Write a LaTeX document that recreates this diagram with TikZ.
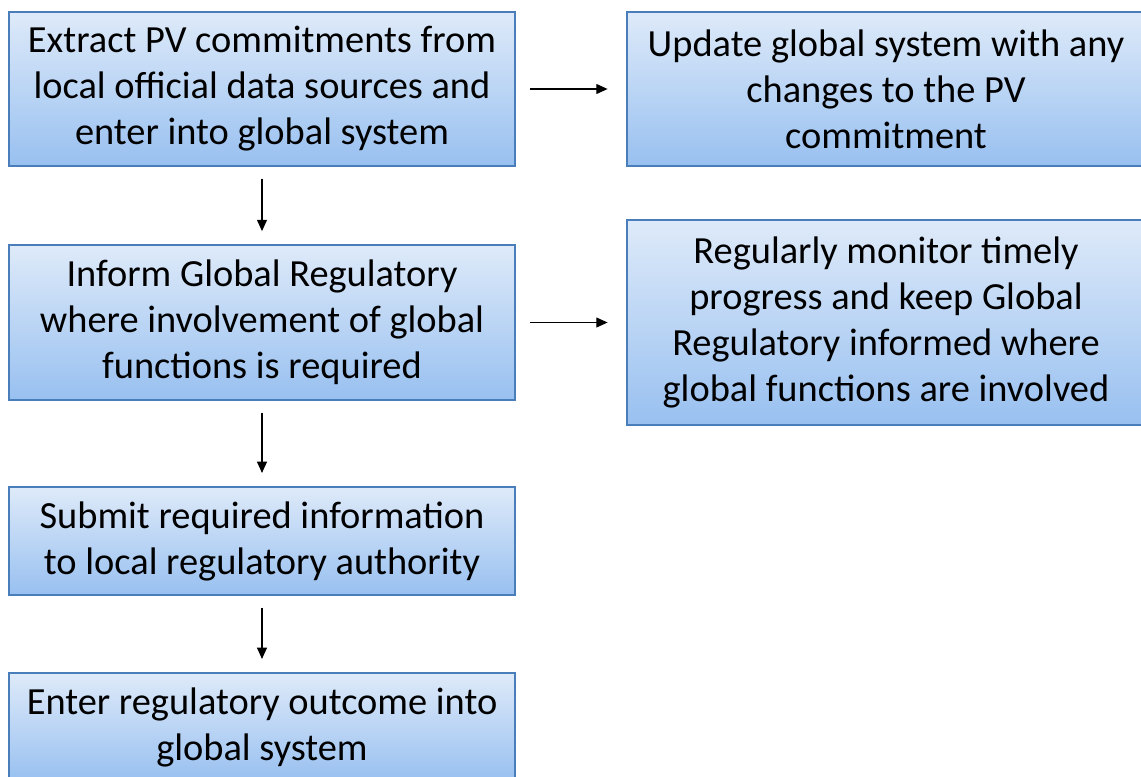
\documentclass[tikz,border=0pt]{standalone}
\usepackage{fontspec}
\setmainfont{Carlito}
\usepackage{tikz}
\usetikzlibrary{arrows.meta}
\definecolor{boxline}{HTML}{4A7EBB}
\definecolor{boxtop}{HTML}{DEEAF9}
\definecolor{boxbottom}{HTML}{98C0F0}
\tikzset{basic/.style={draw=boxline,line width=1.1pt,top color=boxtop,
                       bottom color=boxbottom,align=center,inner sep=0pt,
                       font=\fontsize{28.8}{34.5}\selectfont}}
\tikzset{leftbox/.style={basic,minimum width=379.5pt}}
\tikzset{rightbox/.style={basic,minimum width=388.5pt}}
\tikzset{flow/.style={-{Triangle[length=8.5pt,width=7.5pt]},line width=0.9pt,
                      shorten <=9pt,shorten >=10pt}}

\begin{document}
\begin{tikzpicture}[x=0.75pt,y=-0.75pt]
    \useasboundingbox (0,0) rectangle (1141,776);
    % left column
    \node[leftbox,minimum height=115.5pt] (b1) at (262,89)
        {Extract PV commitments from\\local official data sources and\\enter into global system};
    \node[leftbox,minimum height=116pt] (b2) at (262,322.5)
        {Inform Global Regulatory\\where involvement of global\\functions is required};
    \node[leftbox,minimum height=81pt] (b3) at (262,541)
        {Submit required information\\to local regulatory authority};
    \node[leftbox,minimum height=81pt] (b4) at (262,727)
        {Enter regulatory outcome into\\global system};
    % right column
    \node[rightbox,minimum height=115.5pt] (r1) at (886,89)
        {Update global system with any\\changes to the PV\\commitment};
    \node[rightbox,minimum height=153.75pt] (r2) at (886,322.5)
        {Regularly monitor timely\\progress and keep Global\\Regulatory informed where\\global functions are involved};
    % arrows
    \foreach \a/\b in {b1/b2,b2/b3,b3/b4}{%
          \draw[flow] (\a) -- (\b);
        }
    \draw[flow,shorten <=11pt,shorten >=14pt] (b1) -- (r1);
    \draw[flow,shorten <=11pt,shorten >=14pt] (b2) -- (r2);
\end{tikzpicture}
\end{document}
